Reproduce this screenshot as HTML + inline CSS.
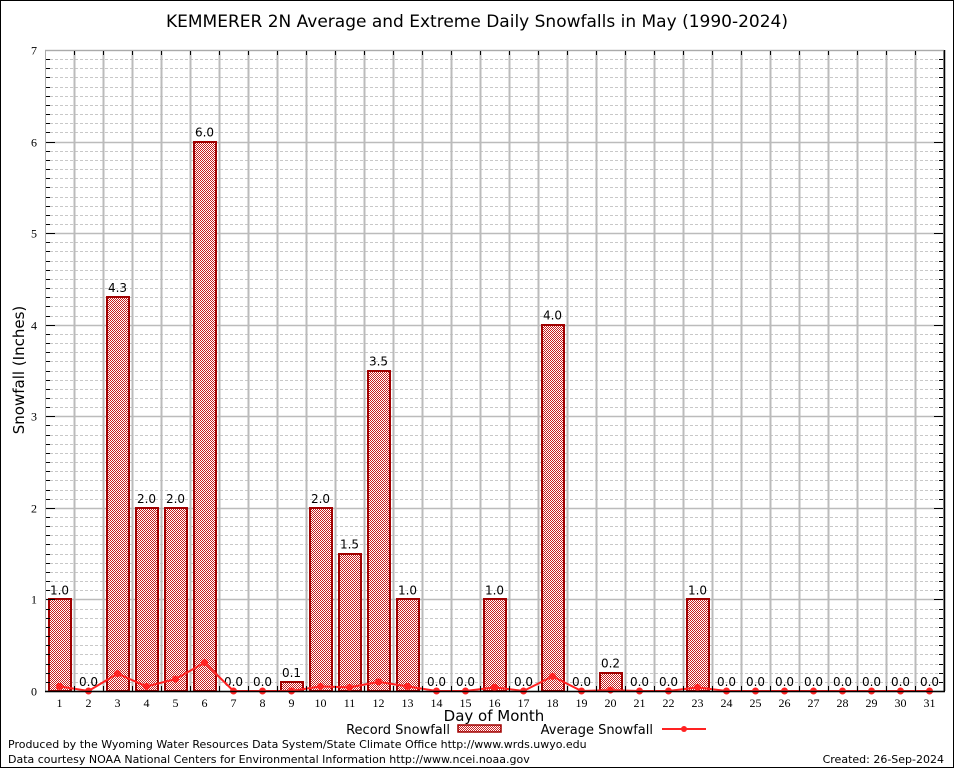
<!DOCTYPE html>
<html><head><meta charset="utf-8"><style>
body{margin:0;background:#fff}
svg{display:block;font-family:"DejaVu Sans","Liberation Sans",sans-serif}
</style></head><body>
<svg width="954" height="768" viewBox="0 0 954 768">
<defs>
<pattern id="chk" x="0" y="0" width="2" height="2" patternUnits="userSpaceOnUse">
<rect width="2" height="2" fill="#fff" shape-rendering="crispEdges"/><rect width="1" height="1" fill="#c82020" shape-rendering="crispEdges"/><rect x="1" y="1" width="1" height="1" fill="#c82020" shape-rendering="crispEdges"/>
</pattern>
</defs>
<rect x="0.5" y="0.5" width="953" height="767" fill="#fff" stroke="#000"/>
<text x="477" y="27" text-anchor="middle" font-size="17">KEMMERER 2N Average and Extreme Daily Snowfalls in May (1990-2024)</text>
<g id="grid"></g>
<g id="bars"></g>
<g id="avg"></g>
<g id="axes"></g>
<text transform="translate(24,370) rotate(-90)" text-anchor="middle" font-size="15">Snowfall (Inches)</text>
<text x="494" y="721" text-anchor="middle" font-size="15">Day of Month</text>
<g>
<text x="450" y="734" text-anchor="end" font-size="13">Record Snowfall</text>
<rect x="458" y="725" width="43" height="7" fill="url(#chk)" stroke="#a00000" stroke-width="1.5"/>
</g>
<g>
<text x="653" y="734" text-anchor="end" font-size="13">Average Snowfall</text>
<line x1="662" y1="729" x2="706" y2="729" stroke="#f22" stroke-width="2"/>
<circle cx="684" cy="729" r="3" fill="#f22"/>
</g>
<text x="8" y="748" font-size="11">Produced by the Wyoming Water Resources Data System/State Climate Office http://www.wrds.uwyo.edu</text>
<text x="8" y="763" font-size="11">Data courtesy NOAA National Centers for Environmental Information http://www.ncei.noaa.gov</text>
<text x="944" y="763" text-anchor="end" font-size="11">Created: 26-Sep-2024</text>
</svg>
<script>
const days=[1,2,3,4,5,6,7,8,9,10,11,12,13,14,15,16,17,18,19,20,21,22,23,24,25,26,27,28,29,30,31];
const recordVals=[1.0,0,4.3,2.0,2.0,6.0,0,0,0.1,2.0,1.5,3.5,1.0,0,0,1.0,0,4.0,0,0.2,0,0,1.0,0,0,0,0,0,0,0,0];
const avgVals=[0.05,0,0.19,0.05,0.13,0.31,0,0,0,0.05,0.04,0.1,0.05,0,0,0.04,0,0.16,0,0.01,0,0,0.04,0,0,0,0,0,0,0,0];
const yTicks=[0,1,2,3,4,5,6,7];
const NS="http://www.w3.org/2000/svg";
const L=45,R=944,T=50,B=691,yMax=7;
const step=(R-L)/days.length;
const x=d=>L+step*(d-0.5);
const y=v=>B-(B-T)*v/yMax;
function mk(tag,a,parent){const e=document.createElementNS(NS,tag);for(const k in a)e.setAttribute(k,a[k]);parent.appendChild(e);return e;}
const grid=document.getElementById('grid'),bars=document.getElementById('bars'),avg=document.getElementById('avg'),axes=document.getElementById('axes');
for(let i=0;i<yMax*10;i++){if(i%10===0)continue;const yy=Math.round(y(i/10))+0.5;
const g=mk('line',{x1:L,x2:R,y1:yy,y2:yy,stroke:'#c8c8c8','stroke-dasharray':'3,2','stroke-width':1},grid);

mk('line',{x1:L,x2:L+5,y1:yy,y2:yy,stroke:'#000'},axes);mk('line',{x1:R-5,x2:R,y1:yy,y2:yy,stroke:'#000'},axes);}
yTicks.forEach(t=>{const yy=Math.round(y(t))+0.5;
const g=mk('line',{x1:L,x2:R,y1:yy,y2:yy,stroke:'#bbb','stroke-width':1.5},grid);

mk('line',{x1:L,x2:L+10,y1:yy,y2:yy,stroke:'#000'},axes);mk('line',{x1:R-10,x2:R,y1:yy,y2:yy,stroke:'#000'},axes);
const tx=mk('text',{x:L-8,y:yy+4,'text-anchor':'end','font-size':12,'font-family':'Liberation Serif, serif'},axes);tx.textContent=t;
});
for(let k=1;k<days.length;k++){const xx=Math.round(L+step*k)+0.5;
const g=mk('line',{x1:xx,x2:xx,y1:T,y2:B,stroke:'#bbb','stroke-width':2},grid);

mk('line',{x1:xx,x2:xx,y1:T,y2:T+5,stroke:'#000'},axes);mk('line',{x1:xx,x2:xx,y1:B-5,y2:B,stroke:'#000'},axes);}
days.forEach((d,i)=>{const v=recordVals[i];
if(v>0){const b=mk('rect',{x:Math.round(x(d)-11),y:Math.round(y(v)),width:22,height:B-Math.round(y(v)),fill:'url(#chk)',stroke:'#a00000','stroke-width':2},bars);
}
const lb=mk('text',{x:x(d),y:y(v)-5,'text-anchor':'middle','font-size':12},bars);lb.textContent=v.toFixed(1);

const tl=mk('text',{x:x(d),y:B+16,'text-anchor':'middle','font-size':12,'font-family':'Liberation Serif, serif'},axes);tl.textContent=d;
});
const pts=days.map((d,i)=>x(d)+','+y(avgVals[i])).join(' ');
const pl=mk('polyline',{points:pts,fill:'none',stroke:'#f22','stroke-width':2},avg);

days.forEach((d,i)=>{const c=mk('circle',{cx:x(d),cy:y(avgVals[i]),r:3.5,fill:'#f22'},avg);
});
mk('rect',{x:L+0.5,y:T+0.5,width:R-L-1,height:B-T,fill:'none',stroke:'#aaa'},axes);
mk('line',{x1:L,x2:R+1,y1:B+0.5,y2:B+0.5,stroke:'#000','stroke-width':1.5},axes);
mk('line',{x1:R+0.5,x2:R+0.5,y1:T,y2:B,stroke:'#000','stroke-width':1.5},axes);
</script>
</body></html>
